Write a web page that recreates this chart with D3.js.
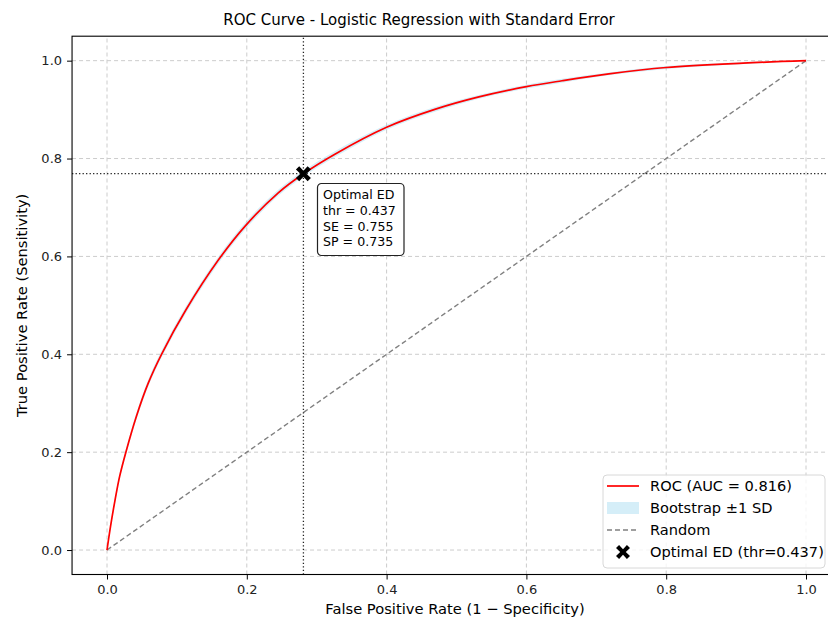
<!DOCTYPE html>
<html>
<head>
<meta charset="utf-8">
<script src="https://cdn.jsdelivr.net/npm/d3@7"></script>
<style>
  body { margin: 0; background: #fff; }
  svg { font-family: "DejaVu Sans", sans-serif; }
</style>
</head>
<body>
<div id="chart"></div>
<script>
// ROC curve
const fpr = [0, 0.005, 0.0115, 0.018, 0.027, 0.042, 0.059, 0.078, 0.113, 0.159, 0.197, 0.245, 0.281,
  0.326, 0.4, 0.47, 0.532, 0.6, 0.651, 0.718, 0.8, 0.91, 1];
const tpr = [0, 0.048, 0.102, 0.15, 0.2, 0.273, 0.341, 0.4, 0.491, 0.592, 0.661, 0.73, 0.769,
  0.809, 0.864, 0.901, 0.926, 0.947, 0.959, 0.973, 0.986, 0.995, 1];
// bootstrap +-1 SD (very thin in the picture)
const tprSd = [0, 0.004, 0.005, 0.006, 0.006, 0.007, 0.007, 0.007, 0.007, 0.007, 0.007, 0.006, 0.006,
  0.006, 0.005, 0.005, 0.004, 0.004, 0.004, 0.003, 0.003, 0.002, 0];

const optimal = { fpr: 0.281, tpr: 0.769, thr: 0.437, se: 0.755, sp: 0.735 };
const auc = 0.816;
const ticks = [0, 0.2, 0.4, 0.6, 0.8, 1.0];
const legendLabels = ['ROC (AUC = 0.816)', 'Bootstrap \u00b11 SD', 'Random', 'Optimal ED (thr=0.437)'];

const W = 828, H = 622;
const svg = d3.select('#chart').append('svg').attr('width', W).attr('height', H);

const x = d3.scaleLinear().domain([-0.05, 1.05]).range([72.05, 840.95]);
const y = d3.scaleLinear().domain([-0.05, 1.05]).range([574.5, 36.2]);

const defs = svg.append('defs');
defs.append('clipPath').attr('id', 'clip').append('rect')
    .attr('x', x(-0.05)).attr('y', y(1.05))
    .attr('width', x(1.05) - x(-0.05)).attr('height', y(-0.05) - y(1.05));

// grid
const grid = svg.append('g').attr('clip-path', 'url(#clip)');
grid.selectAll('.gx').data(ticks).enter().append('line')
    .attr('x1', d => x(d)).attr('x2', d => x(d))
    .attr('y1', y(-0.05)).attr('y2', y(1.05))
    .attr('stroke', '#cccccc').attr('stroke-width', 1).attr('stroke-dasharray', '4,3');
grid.selectAll('.gy').data(ticks).enter().append('line')
    .attr('y1', d => y(d)).attr('y2', d => y(d))
    .attr('x1', x(-0.05)).attr('x2', x(1.05))
    .attr('stroke', '#cccccc').attr('stroke-width', 1).attr('stroke-dasharray', '4,3');

const pts = fpr.map((f, i) => ({ f, t: tpr[i], sd: tprSd[i] }));
const plot = svg.append('g').attr('clip-path', 'url(#clip)');
const curve = d3.curveCatmullRom.alpha(0.5);

// band
plot.append('path').datum(pts)
    .attr('fill', '#87ceeb').attr('fill-opacity', 0.35)
    .attr('d', d3.area().curve(curve)
        .x(d => x(d.f)).y0(d => y(d.t - d.sd)).y1(d => y(Math.min(1, d.t + d.sd))));

// random
plot.append('line')
    .attr('x1', x(0)).attr('y1', y(0)).attr('x2', x(1)).attr('y2', y(1))
    .attr('stroke', '#808080').attr('stroke-width', 1.4).attr('stroke-dasharray', '5,3');

// ROC
plot.append('path').datum(pts)
    .attr('fill', 'none').attr('stroke', '#ff0000').attr('stroke-width', 1.7)
    .attr('d', d3.line().curve(curve).x(d => x(d.f)).y(d => y(d.t)));

// optimal lines
plot.append('line')
    .attr('x1', x(optimal.fpr)).attr('x2', x(optimal.fpr))
    .attr('y1', y(-0.05)).attr('y2', y(1.05))
    .attr('stroke', '#222').attr('stroke-width', 1.3).attr('stroke-dasharray', '1.3,2.2');
plot.append('line')
    .attr('y1', y(optimal.tpr)).attr('y2', y(optimal.tpr))
    .attr('x1', x(-0.05)).attr('x2', x(1.05))
    .attr('stroke', '#222').attr('stroke-width', 1.3).attr('stroke-dasharray', '1.3,2.2');

// filled X marker, thick arms like matplotlib 'X'
const xMarker = s => {
  const a = s / 2, b = s * 0.22, c = s * 0.2;
  return `M${-a},${-a + b}L${-a + b},${-a}L0,${-c}L${a - b},${-a}L${a},${-a + b}L${c},0` +
    `L${a},${a - b}L${a - b},${a}L0,${c}L${-a + b},${a}L${-a},${a - b}L${-c},0Z`;
};
svg.append('path')
    .attr('transform', `translate(${x(optimal.fpr)},${y(optimal.tpr)})`)
    .attr('d', xMarker(15)).attr('fill', '#000');

// annotation box
const ann = svg.append('g').attr('transform', 'translate(317.5,183.5)');
ann.append('rect').attr('width', 86.5).attr('height', 72).attr('rx', 4)
    .attr('fill', '#fff').attr('stroke', '#222').attr('stroke-width', 1.2);
const annLines = ['Optimal ED', `thr = ${optimal.thr.toFixed(3)}`, `SE = ${optimal.se.toFixed(3)}`, `SP = ${optimal.sp.toFixed(3)}`];
ann.selectAll('text').data(annLines).enter().append('text')
    .attr('x', 5.5).attr('y', (d, i) => 15.5 + i * 15.8)
    .attr('font-size', 12.6).attr('fill', '#000').text(d => d);

// spines (right side falls outside the picture)
svg.append('rect')
    .attr('x', x(-0.05)).attr('y', y(1.05))
    .attr('width', x(1.05) - x(-0.05)).attr('height', y(-0.05) - y(1.05))
    .attr('fill', 'none').attr('stroke', '#000').attr('stroke-width', 1.1);

// axes
const fmt = d3.format('.1f');
const xAxis = svg.append('g').attr('transform', `translate(0,${y(-0.05)})`)
    .call(d3.axisBottom(x).tickValues(ticks).tickFormat(fmt).tickSizeOuter(0).tickSize(5).tickPadding(5));
const yAxis = svg.append('g').attr('transform', `translate(${x(-0.05)},0)`)
    .call(d3.axisLeft(y).tickValues(ticks).tickFormat(fmt).tickSizeOuter(0).tickSize(5).tickPadding(5));
[xAxis, yAxis].forEach(g => {
  g.select('.domain').remove();
  g.selectAll('text').attr('font-size', 13).attr('fill', '#222').attr('font-family', '"DejaVu Sans", sans-serif');
  g.selectAll('line').attr('stroke', '#000').attr('stroke-width', 1);
});

// titles
svg.append('text').attr('x', 419).attr('y', 25).attr('text-anchor', 'middle')
    .attr('font-size', 15).attr('fill', '#000')
    .text('ROC Curve - Logistic Regression with Standard Error');
svg.append('text').attr('x', 455).attr('y', 614).attr('text-anchor', 'middle')
    .attr('font-size', 14.7).attr('fill', '#000')
    .text('False Positive Rate (1 \u2212 Specificity)');
svg.append('text').attr('transform', `translate(27,${(y(-0.05) + y(1.05)) / 2}) rotate(-90)`)
    .attr('text-anchor', 'middle').attr('font-size', 14.7).attr('fill', '#000')
    .text('True Positive Rate (Sensitivity)');

// legend
const leg = svg.append('g').attr('transform', 'translate(603,475)');
leg.append('rect').attr('width', 222).attr('height', 93).attr('rx', 4)
    .attr('fill', '#fff').attr('fill-opacity', 0.8).attr('stroke', '#d8d8d8').attr('stroke-width', 1);
const rowY = i => 11 + i * 22;
leg.append('line').attr('x1', 4).attr('x2', 36).attr('y1', rowY(0)).attr('y2', rowY(0))
    .attr('stroke', '#ff0000').attr('stroke-width', 1.7);
leg.append('rect').attr('x', 4).attr('y', rowY(1) - 6).attr('width', 32).attr('height', 12)
    .attr('fill', '#87ceeb').attr('fill-opacity', 0.35);
leg.append('line').attr('x1', 4).attr('x2', 36).attr('y1', rowY(2)).attr('y2', rowY(2))
    .attr('stroke', '#808080').attr('stroke-width', 1.4).attr('stroke-dasharray', '5,3');
leg.append('path').attr('transform', `translate(20,${rowY(3)})`).attr('d', xMarker(14)).attr('fill', '#000');
leg.selectAll('.lt').data(legendLabels).enter().append('text')
    .attr('x', 47).attr('y', (d, i) => rowY(i) + 5)
    .attr('font-size', 14.6).attr('fill', '#000').text(d => d);
</script>
</body>
</html>
